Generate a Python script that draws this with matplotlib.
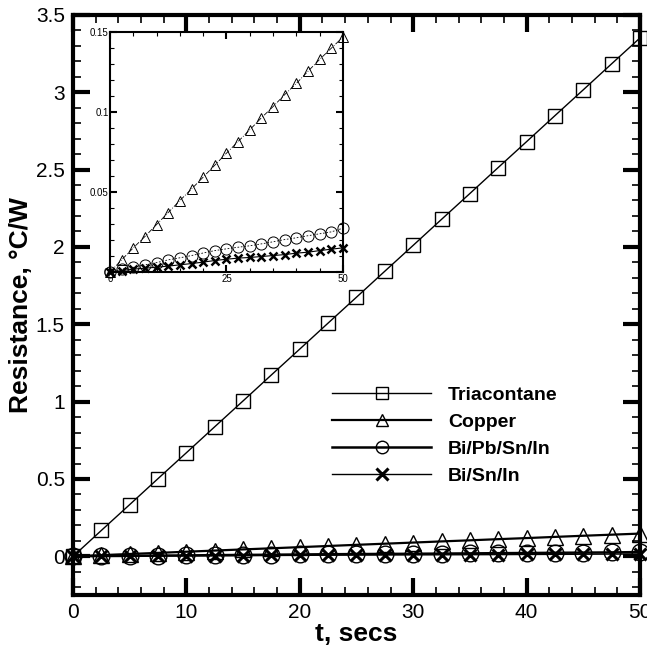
import matplotlib
matplotlib.use("Agg")
import matplotlib.pyplot as plt
from matplotlib.ticker import MultipleLocator

plt.rcParams["font.family"] = ["Liberation Sans", "DejaVu Sans"]

# time samples (secs)
t = [0, 2.5, 5, 7.5, 10, 12.5, 15, 17.5, 20, 22.5, 25,
     27.5, 30, 32.5, 35, 37.5, 40, 42.5, 45, 47.5, 50]

# resistance, C/W
triacontane = [0.0, 0.168, 0.335, 0.503, 0.670, 0.838, 1.005, 1.173, 1.340, 1.508, 1.675,
               1.843, 2.010, 2.178, 2.345, 2.513, 2.680, 2.848, 3.015, 3.183, 3.350]
copper = [0.0, 0.0077, 0.0152, 0.0223, 0.0298, 0.0373, 0.0448, 0.0520, 0.0594, 0.0669, 0.0744,
          0.0817, 0.0890, 0.0965, 0.1035, 0.1110, 0.1180, 0.1256, 0.1330, 0.1400, 0.1470]
bi_pb_sn_in = [0.0, 0.0019, 0.0030, 0.0046, 0.0060, 0.0077, 0.0090, 0.0104, 0.0120, 0.0135, 0.0146,
               0.0156, 0.0165, 0.0177, 0.0190, 0.0204, 0.0215, 0.0228, 0.0240, 0.0252, 0.0275]
bi_sn_in = [0.0, 0.0010, 0.0019, 0.0025, 0.0031, 0.0038, 0.0046, 0.0054, 0.0063, 0.0073, 0.0081,
            0.0088, 0.0092, 0.0098, 0.0104, 0.0110, 0.0119, 0.0125, 0.0135, 0.0144, 0.0152]

labels = ["Triacontane", "Copper", "Bi/Pb/Sn/In", "Bi/Sn/In"]

fig = plt.figure(figsize=(6.47, 6.45), dpi=100)
ax = fig.add_axes([0.113, 0.0775, 0.876, 0.8995])

ax.plot(t, triacontane, color="black", lw=1.0, marker="s", ms=10, mfc="none", mew=1.0,
        label=labels[0], clip_on=False, zorder=3)
ax.plot(t, copper, color="black", lw=1.6, marker="^", ms=11, mfc="none", mew=1.0,
        label=labels[1], clip_on=False, zorder=3)
ax.plot(t, bi_pb_sn_in, color="black", lw=1.8, marker="o", ms=12, mfc="none", mew=1.0,
        label=labels[2], clip_on=False, zorder=3)
ax.plot(t, bi_sn_in, color="black", lw=1.0, marker="x", ms=9, mew=2.2,
        label=labels[3], clip_on=False, zorder=3)

ax.set_xlim(0, 50)
ax.set_ylim(-0.25, 3.5)
ax.xaxis.set_major_locator(MultipleLocator(10))
ax.xaxis.set_minor_locator(MultipleLocator(2))
ax.yaxis.set_major_locator(MultipleLocator(0.5))
ax.yaxis.set_minor_locator(MultipleLocator(0.1))
ax.yaxis.set_major_formatter(plt.FuncFormatter(lambda v, p: f"{v:g}"))
ax.tick_params(which="both", direction="in", top=True, right=True, labelsize=15, pad=6)
ax.tick_params(which="major", length=12, width=3)
ax.tick_params(which="minor", length=6, width=1.2)
for s in ax.spines.values():
    s.set_linewidth(3)
ax.set_xlabel("t, secs", fontsize=19, fontweight="bold", labelpad=0)
ax.set_ylabel("Resistance, \u00b0C/W", fontsize=19, fontweight="bold", labelpad=2)

leg = ax.legend(loc="upper left", bbox_to_anchor=(0.457, 0.360), frameon=False,
                borderpad=0, borderaxespad=0,
                prop={"weight": "bold", "size": 14}, handlelength=5.1,
                handletextpad=0.85, labelspacing=0.49)
for h in leg.get_lines():
    h.set_markersize(9)

# inset zoom on the low-resistance materials
ins = fig.add_axes([0.170, 0.578, 0.360, 0.372])
ins.set_facecolor("white")
ins.plot(t, copper, color="black", lw=0.6, ls=(0, (6, 2, 1, 2)), marker="^", ms=7,
         mfc="none", mew=0.7, clip_on=False)
ins.plot(t, bi_pb_sn_in, color="black", lw=0.6, ls=(0, (2, 2)), marker="o", ms=8,
         mfc="none", mew=0.7, clip_on=False)
ins.plot(t, bi_sn_in, color="black", lw=0.8, marker="x", ms=6, mew=1.8, clip_on=False)
ins.set_xlim(0, 50)
ins.set_ylim(0, 0.15)
ins.xaxis.set_major_locator(MultipleLocator(25))
ins.xaxis.set_minor_locator(MultipleLocator(5))
ins.yaxis.set_major_locator(MultipleLocator(0.05))
ins.yaxis.set_minor_locator(MultipleLocator(0.01))
ins.yaxis.set_major_formatter(plt.FuncFormatter(lambda v, p: f"{v:g}"))
ins.tick_params(which="both", direction="in", top=True, right=True, labelsize=7, pad=1)
ins.tick_params(which="major", length=5, width=1.5)
ins.tick_params(which="minor", length=3, width=0.8)
for s in ins.spines.values():
    s.set_linewidth(1.5)

fig.savefig("out.png", dpi=100)
